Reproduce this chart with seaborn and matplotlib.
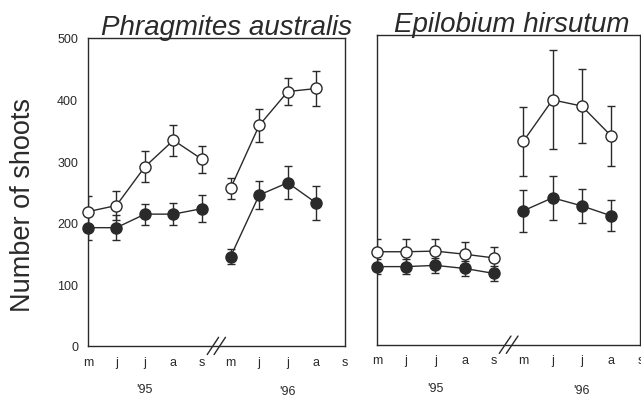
import numpy as np
import pandas as pd
import seaborn as sns
import matplotlib
matplotlib.use("Agg")
import matplotlib.pyplot as plt
import matplotlib.transforms as mt

sns.set_style("white")
plt.rcParams['font.family'] = ['Liberation Sans', 'DejaVu Sans']

months = ['m', 'j', 'j', 'a', 's', 'm', 'j', 'j', 'a', 's']
years = ["'95", "'96"]
x95 = [0, 1, 2, 3, 4]
x96 = [5, 6, 7, 8]

# Phragmites australis
phr_open_95 = [218, 228, 291, 334, 303]
phr_open_95_err = [25, 23, 25, 25, 22]
phr_open_96 = [256, 358, 413, 418]
phr_open_96_err = [17, 27, 22, 28]
phr_fill_95 = [192, 192, 214, 214, 223]
phr_fill_95_err = [20, 20, 17, 18, 22]
phr_fill_96 = [145, 245, 265, 232]
phr_fill_96_err = [12, 22, 27, 27]

# Epilobium hirsutum
epi_open_95 = [150, 150, 151, 146, 140]
epi_open_95_err = [20, 20, 20, 19, 18]
epi_open_96 = [328, 395, 385, 337]
epi_open_96_err = [56, 80, 59, 48]
epi_fill_95 = [126, 126, 128, 123, 115]
epi_fill_95_err = [12, 12, 12, 12, 12]
epi_fill_96 = [216, 237, 224, 208]
epi_fill_96_err = [34, 35, 28, 25]

INK = '#2a2a2a'

fig = plt.figure(figsize=(6.41, 4.02), dpi=100)
ax1 = fig.add_axes([0.137, 0.137, 0.401, 0.766])
ax2 = fig.add_axes([0.588, 0.140, 0.411, 0.771])


def draw_series(ax, xs, ys, errs, filled):
    df = pd.DataFrame({'x': xs, 'y': ys})
    ax.errorbar(xs, ys, yerr=errs, fmt='none', ecolor=INK, elinewidth=1.0,
                capsize=3.2, capthick=1.0, zorder=2)
    sns.lineplot(data=df, x='x', y='y', ax=ax, color=INK, linewidth=1.0,
                 marker='o', markersize=8,
                 markerfacecolor=INK if filled else 'white',
                 markeredgecolor=INK, markeredgewidth=1.0, zorder=3,
                 clip_on=False)


def style_axes(ax, show_ylabels):
    ax.set_xlim(0, 9)
    ax.set_ylim(0, 500)
    ax.set_xticks(range(10))
    ax.set_xticklabels(months, fontsize=9, color=INK)
    ax.set_yticks([0, 100, 200, 300, 400, 500])
    if show_ylabels:
        ax.set_yticklabels(['0', '100', '200', '300', '400', '500'], fontsize=9, color=INK)
    else:
        ax.set_yticklabels([])
    ax.tick_params(direction='in', length=4, width=0.8, color=INK, pad=7)
    for s in ax.spines.values():
        s.set_visible(True)
        s.set_color(INK)
        s.set_linewidth(1.0)
    ax.set_xlabel('')
    ax.set_ylabel('')
    tr = mt.blended_transform_factory(ax.transData, ax.transAxes)
    ax.text(2, -0.14, years[0], transform=tr, ha='center', va='center', fontsize=9, color=INK)
    ax.text(7, -0.145, years[1], transform=tr, ha='center', va='center', fontsize=9, color=INK)
    # axis break marks
    for dx in (-0.12, 0.12):
        ax.plot([4.5 + dx - 0.2, 4.5 + dx + 0.2], [-14, 14], color=INK, lw=1.0,
                clip_on=False, zorder=5)


for ax, o95, o95e, o96, o96e, f95, f95e, f96, f96e in [
    (ax1, phr_open_95, phr_open_95_err, phr_open_96, phr_open_96_err,
     phr_fill_95, phr_fill_95_err, phr_fill_96, phr_fill_96_err),
    (ax2, epi_open_95, epi_open_95_err, epi_open_96, epi_open_96_err,
     epi_fill_95, epi_fill_95_err, epi_fill_96, epi_fill_96_err),
]:
    draw_series(ax, x95, o95, o95e, False)
    draw_series(ax, x96, o96, o96e, False)
    draw_series(ax, x95, f95, f95e, True)
    draw_series(ax, x96, f96, f96e, True)

style_axes(ax1, True)
style_axes(ax2, False)

ax1.set_title('Phragmites australis', fontsize=20, style='italic', color=INK, pad=3, x=0.54)
ax2.set_title('Epilobium hirsutum', fontsize=20, style='italic', color=INK, pad=3, x=0.51)
fig.text(0.036, 0.49, 'Number of shoots', rotation=90, ha='center', va='center',
         fontsize=19.5, color=INK)

fig.savefig('out.png', dpi=100, facecolor='white')
